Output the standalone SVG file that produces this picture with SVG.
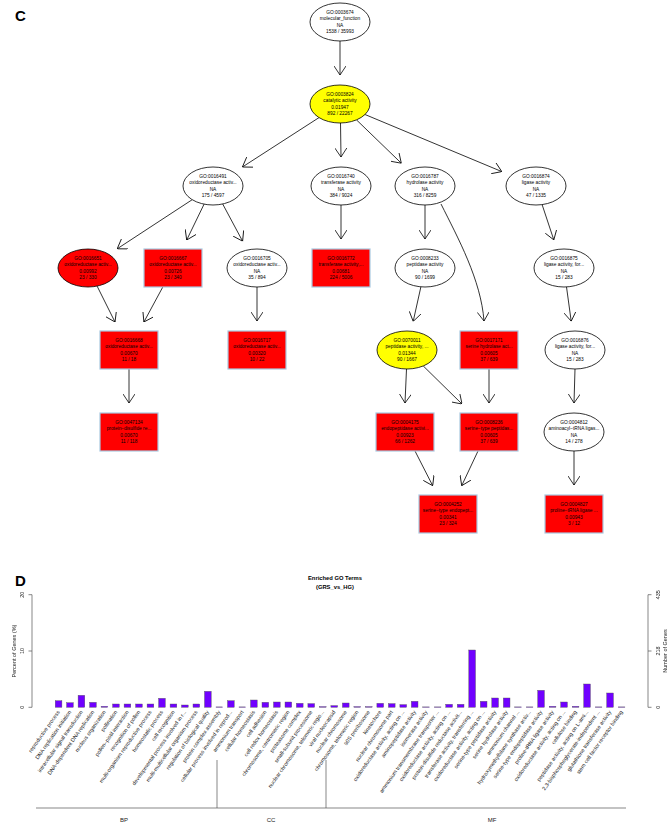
<svg xmlns="http://www.w3.org/2000/svg" width="670" height="826" viewBox="0 0 670 826">
<defs>
<style>
.nt{font-family:"Liberation Sans",Arial,sans-serif;font-size:4.8px;text-anchor:middle;fill:#000}
.ew{fill:#fff;stroke:#000;stroke-width:0.8}
.ey{fill:#ffff00;stroke:#000;stroke-width:0.8}
.er{fill:#ff0000;stroke:#000;stroke-width:0.8}
.rr{fill:#ff0000;stroke:#a8c8e0;stroke-width:1.2}
.ed{fill:none;stroke:#000;stroke-width:0.8}
.bar{fill:#7000ff;stroke:#555;stroke-width:0.4}
.ax{fill:none;stroke:#555;stroke-width:0.7}
.bl{font-family:"Liberation Sans",Arial,sans-serif;font-size:5.4px;text-anchor:end;fill:#222}
.at{font-family:"Liberation Sans",Arial,sans-serif;font-size:5.5px;text-anchor:middle;fill:#222}
.pl{font-family:"Liberation Sans",Arial,sans-serif;font-weight:bold;font-size:15px;fill:#000}
.ti{font-family:"Liberation Sans",Arial,sans-serif;font-weight:bold;font-size:5.8px;text-anchor:middle;fill:#000}
.cat{font-family:"Liberation Sans",Arial,sans-serif;font-size:6px;text-anchor:middle;fill:#222}
</style>
<marker id="ah" viewBox="0 0 9 12" refX="9" refY="6" markerWidth="9" markerHeight="12" markerUnits="userSpaceOnUse" orient="auto">
<path d="M0,0 L9,6 L0,12" fill="none" stroke="#000" stroke-width="0.8"/>
</marker>
</defs>
<rect width="670" height="826" fill="#fff"/>
<text class="pl" x="15" y="21">C</text>
<g id="edges" class="ed" marker-end="url(#ah)">
<path d="M340,41 L340,75"/>
<path d="M319,117.6 L242.4,167"/>
<path d="M340.5,123 L341,157"/>
<path d="M356.5,119.9 L401.3,163.2"/>
<path d="M365,114.5 L501.8,171.6"/>
<path d="M192.2,199.7 L117.2,248.8"/>
<path d="M204.1,204.1 L186.7,240"/>
<path d="M222.7,204 L242.6,241.2"/>
<path d="M341,205 L341,239"/>
<path d="M425,205 L425,239"/>
<path d="M441,204 C458,238 481,280 484,321"/>
<path d="M542.1,204.6 L553.8,239.9"/>
<path d="M97.1,286.1 L115,322"/>
<path d="M162.8,287 L143.9,322"/>
<path d="M257,287 L257,321"/>
<path d="M420.9,286.8 L413.2,321.4"/>
<path d="M566.5,286.9 L571.2,321.2"/>
<path d="M129,369 L129,403"/>
<path d="M406.5,369 L405,403"/>
<path d="M423.3,366 L462,404"/>
<path d="M489,369 L489,403"/>
<path d="M415,451 L432.7,485.7"/>
<path d="M478,451 L461.7,485.7"/>
<path d="M575,369 L574,403"/>
<path d="M574,451 L574,485"/>
</g>
<g id="nodes" opacity="0.995">
<g id="n0003674"><ellipse class="ew" cx="340" cy="22" rx="30" ry="19"/><text class="nt"><tspan x="340" y="14">GO:0003674</tspan><tspan x="340" y="20.3">molecular_function</tspan><tspan x="340" y="26.6">NA</tspan><tspan x="340" y="32.9">1538 / 35993</tspan></text></g>
<g id="n0003824"><ellipse class="ey" cx="340" cy="104" rx="30" ry="19"/><text class="nt"><tspan x="340" y="96">GO:0003824</tspan><tspan x="340" y="102.3">catalytic activity</tspan><tspan x="340" y="108.6">0.01947</tspan><tspan x="340" y="114.9">892 / 22267</tspan></text></g>
<g id="n0016491"><ellipse class="ew" cx="213" cy="186" rx="30" ry="19"/><text class="nt"><tspan x="213" y="178">GO:0016491</tspan><tspan x="213" y="184.3">oxidoreductase activ...</tspan><tspan x="213" y="190.6">NA</tspan><tspan x="213" y="196.9">175 / 4597</tspan></text></g>
<g id="n0016740"><ellipse class="ew" cx="341" cy="186" rx="30" ry="19"/><text class="nt"><tspan x="341" y="178">GO:0016740</tspan><tspan x="341" y="184.3">transferase activity</tspan><tspan x="341" y="190.6">NA</tspan><tspan x="341" y="196.9">384 / 9024</tspan></text></g>
<g id="n0016787"><ellipse class="ew" cx="425" cy="186" rx="30" ry="19"/><text class="nt"><tspan x="425" y="178">GO:0016787</tspan><tspan x="425" y="184.3">hydrolase activity</tspan><tspan x="425" y="190.6">NA</tspan><tspan x="425" y="196.9">316 / 8259</tspan></text></g>
<g id="n0016874"><ellipse class="ew" cx="536" cy="186" rx="30" ry="19"/><text class="nt"><tspan x="536" y="178">GO:0016874</tspan><tspan x="536" y="184.3">ligase activity</tspan><tspan x="536" y="190.6">NA</tspan><tspan x="536" y="196.9">47 / 1335</tspan></text></g>
<g id="n0016651"><ellipse class="er" cx="88" cy="268" rx="30" ry="19"/><text class="nt"><tspan x="88" y="260">GO:0016651</tspan><tspan x="88" y="266.3">oxidoreductase activ...</tspan><tspan x="88" y="272.6">0.00992</tspan><tspan x="88" y="278.9">23 / 330</tspan></text></g>
<g id="n0016667"><rect class="rr" x="144" y="249" width="58" height="38"/><text class="nt"><tspan x="173" y="260">GO:0016667</tspan><tspan x="173" y="266.3">oxidoreductase activ...</tspan><tspan x="173" y="272.6">0.00726</tspan><tspan x="173" y="278.9">23 / 340</tspan></text></g>
<g id="n0016705"><ellipse class="ew" cx="257" cy="268" rx="30" ry="19"/><text class="nt"><tspan x="257" y="260">GO:0016705</tspan><tspan x="257" y="266.3">oxidoreductase activ...</tspan><tspan x="257" y="272.6">NA</tspan><tspan x="257" y="278.9">35 / 894</tspan></text></g>
<g id="n0016772"><rect class="rr" x="312" y="249" width="58" height="38"/><text class="nt"><tspan x="341" y="260">GO:0016772</tspan><tspan x="341" y="266.3">transferase activity,...</tspan><tspan x="341" y="272.6">0.00681</tspan><tspan x="341" y="278.9">224 / 5006</tspan></text></g>
<g id="n0008233"><ellipse class="ew" cx="425" cy="268" rx="30" ry="19"/><text class="nt"><tspan x="425" y="260">GO:0008233</tspan><tspan x="425" y="266.3">peptidase activity</tspan><tspan x="425" y="272.6">NA</tspan><tspan x="425" y="278.9">90 / 1699</tspan></text></g>
<g id="n0016875"><ellipse class="ew" cx="564" cy="268" rx="30" ry="19"/><text class="nt"><tspan x="564" y="260">GO:0016875</tspan><tspan x="564" y="266.3">ligase activity, for...</tspan><tspan x="564" y="272.6">NA</tspan><tspan x="564" y="278.9">15 / 283</tspan></text></g>
<g id="n0016668"><rect class="rr" x="100" y="331" width="58" height="38"/><text class="nt"><tspan x="129" y="342">GO:0016668</tspan><tspan x="129" y="348.3">oxidoreductase activ...</tspan><tspan x="129" y="354.6">0.00670</tspan><tspan x="129" y="360.9">11 / 18</tspan></text></g>
<g id="n0016717"><rect class="rr" x="228" y="331" width="58" height="38"/><text class="nt"><tspan x="257" y="342">GO:0016717</tspan><tspan x="257" y="348.3">oxidoreductase activ...</tspan><tspan x="257" y="354.6">0.00320</tspan><tspan x="257" y="360.9">10 / 22</tspan></text></g>
<g id="n0070011"><ellipse class="ey" cx="407" cy="350" rx="30" ry="19"/><text class="nt"><tspan x="407" y="342">GO:0070011</tspan><tspan x="407" y="348.3">peptidase activity, ...</tspan><tspan x="407" y="354.6">0.01344</tspan><tspan x="407" y="360.9">90 / 1667</tspan></text></g>
<g id="n0017171"><rect class="rr" x="460" y="331" width="58" height="38"/><text class="nt"><tspan x="489" y="342">GO:0017171</tspan><tspan x="489" y="348.3">serine hydrolase act...</tspan><tspan x="489" y="354.6">0.00605</tspan><tspan x="489" y="360.9">37 / 639</tspan></text></g>
<g id="n0016876"><ellipse class="ew" cx="575" cy="350" rx="30" ry="19"/><text class="nt"><tspan x="575" y="342">GO:0016876</tspan><tspan x="575" y="348.3">ligase activity, for...</tspan><tspan x="575" y="354.6">NA</tspan><tspan x="575" y="360.9">15 / 283</tspan></text></g>
<g id="n0047134"><rect class="rr" x="100" y="413" width="58" height="38"/><text class="nt"><tspan x="129" y="424">GO:0047134</tspan><tspan x="129" y="430.3">protein−disulfide re...</tspan><tspan x="129" y="436.6">0.00670</tspan><tspan x="129" y="442.9">11 / 118</tspan></text></g>
<g id="n0004175"><rect class="rr" x="376" y="413" width="58" height="38"/><text class="nt"><tspan x="405" y="424">GO:0004175</tspan><tspan x="405" y="430.3">endopeptidase activi...</tspan><tspan x="405" y="436.6">0.00923</tspan><tspan x="405" y="442.9">66 / 1262</tspan></text></g>
<g id="n0008236"><rect class="rr" x="460" y="413" width="58" height="38"/><text class="nt"><tspan x="489" y="424">GO:0008236</tspan><tspan x="489" y="430.3">serine−type peptidas...</tspan><tspan x="489" y="436.6">0.00605</tspan><tspan x="489" y="442.9">37 / 639</tspan></text></g>
<g id="n0004812"><ellipse class="ew" cx="574" cy="432" rx="30" ry="19"/><text class="nt"><tspan x="574" y="424">GO:0004812</tspan><tspan x="574" y="430.3">aminoacyl−tRNA ligas...</tspan><tspan x="574" y="436.6">NA</tspan><tspan x="574" y="442.9">14 / 278</tspan></text></g>
<g id="n0004252"><rect class="rr" x="419" y="495" width="58" height="38"/><text class="nt"><tspan x="448" y="506">GO:0004252</tspan><tspan x="448" y="512.3">serine−type endopept...</tspan><tspan x="448" y="518.6">0.00341</tspan><tspan x="448" y="524.9">23 / 324</tspan></text></g>
<g id="n0004827"><rect class="rr" x="545" y="495" width="58" height="38"/><text class="nt"><tspan x="574" y="506">GO:0004827</tspan><tspan x="574" y="512.3">proline−tRNA ligase ...</tspan><tspan x="574" y="518.6">0.00943</tspan><tspan x="574" y="524.9">3 / 12</tspan></text></g>
</g>
<g id="chart">
<text class="pl" x="15" y="586">D</text>
<text class="ti" x="335" y="580">Enriched GO Terms</text>
<text class="ti" x="335" y="589">(GRS_vs_HG)</text>
<path class="ax" d="M32,594.7 V707.3 M32,594.7 H28.5 M32,651 H28.5 M32,707.3 H28.5"/>
<g opacity="0.995">
<text class="at" transform="translate(24,594.7) rotate(-90)">20</text>
<text class="at" transform="translate(24,651) rotate(-90)">10</text>
<text class="at" transform="translate(24,707.3) rotate(-90)">0</text>
<text class="at" transform="translate(16,651) rotate(-90)">Percent of Genes (%)</text>
<text class="at" transform="translate(660,594.7) rotate(-90)">435</text>
<text class="at" transform="translate(660,651) rotate(-90)">218</text>
<text class="at" transform="translate(660,707.3) rotate(-90)">0</text>
<text class="at" transform="translate(667,651) rotate(-90)">Number of Genes</text>
</g>
<path class="ax" d="M648,594.7 V707.3 M648,594.7 H651.5 M648,651 H651.5 M648,707.3 H651.5"/>
<g id="bars">
<rect class="bar" x="55.2" y="700.7" width="6.7" height="6.6"/>
<rect class="bar" x="66.6" y="702.7" width="6.7" height="4.6"/>
<rect class="bar" x="78.1" y="695.3" width="6.7" height="12"/>
<rect class="bar" x="89.6" y="702.3" width="6.7" height="5"/>
<rect class="bar" x="101.1" y="706.3" width="6.7" height="1"/>
<rect class="bar" x="112.6" y="704" width="6.7" height="3.3"/>
<rect class="bar" x="124.1" y="704" width="6.7" height="3.3"/>
<rect class="bar" x="135.6" y="704" width="6.7" height="3.3"/>
<rect class="bar" x="147.1" y="704" width="6.7" height="3.3"/>
<rect class="bar" x="158.6" y="698.3" width="6.7" height="9"/>
<rect class="bar" x="170.1" y="704" width="6.7" height="3.3"/>
<rect class="bar" x="181.5" y="705" width="6.7" height="2.3"/>
<rect class="bar" x="193.0" y="704" width="6.7" height="3.3"/>
<rect class="bar" x="204.5" y="691.3" width="6.7" height="16"/>
<rect class="bar" x="216.0" y="706.9" width="6.7" height="0.4"/>
<rect class="bar" x="227.5" y="700.7" width="6.7" height="6.6"/>
<rect class="bar" x="239.0" y="706.9" width="6.7" height="0.4"/>
<rect class="bar" x="250.5" y="700" width="6.7" height="7.3"/>
<rect class="bar" x="262.0" y="702.3" width="6.7" height="5"/>
<rect class="bar" x="273.5" y="702" width="6.7" height="5.3"/>
<rect class="bar" x="285.0" y="702" width="6.7" height="5.3"/>
<rect class="bar" x="296.4" y="703.3" width="6.7" height="4"/>
<rect class="bar" x="307.9" y="703.6" width="6.7" height="3.7"/>
<rect class="bar" x="319.4" y="706.6" width="6.7" height="0.7"/>
<rect class="bar" x="330.9" y="705.6" width="6.7" height="1.7"/>
<rect class="bar" x="342.4" y="703" width="6.7" height="4.3"/>
<rect class="bar" x="353.9" y="706.6" width="6.7" height="0.7"/>
<rect class="bar" x="365.4" y="706.6" width="6.7" height="0.7"/>
<rect class="bar" x="376.9" y="703.3" width="6.7" height="4"/>
<rect class="bar" x="388.4" y="703.6" width="6.7" height="3.7"/>
<rect class="bar" x="399.9" y="704.6" width="6.7" height="2.7"/>
<rect class="bar" x="411.3" y="701.3" width="6.7" height="6"/>
<rect class="bar" x="422.8" y="706.9" width="6.7" height="0.4"/>
<rect class="bar" x="434.3" y="706.9" width="6.7" height="0.4"/>
<rect class="bar" x="445.8" y="704.3" width="6.7" height="3"/>
<rect class="bar" x="457.3" y="704.3" width="6.7" height="3"/>
<rect class="bar" x="468.8" y="650" width="6.7" height="57.3"/>
<rect class="bar" x="480.3" y="701.3" width="6.7" height="6"/>
<rect class="bar" x="491.8" y="698" width="6.7" height="9.3"/>
<rect class="bar" x="503.3" y="698" width="6.7" height="9.3"/>
<rect class="bar" x="514.8" y="706.9" width="6.7" height="0.4"/>
<rect class="bar" x="526.2" y="706.9" width="6.7" height="0.4"/>
<rect class="bar" x="537.7" y="690.3" width="6.7" height="17"/>
<rect class="bar" x="549.2" y="706.3" width="6.7" height="1"/>
<rect class="bar" x="560.7" y="702" width="6.7" height="5.3"/>
<rect class="bar" x="572.2" y="706.3" width="6.7" height="1"/>
<rect class="bar" x="583.7" y="684" width="6.7" height="23.3"/>
<rect class="bar" x="595.2" y="706.9" width="6.7" height="0.4"/>
<rect class="bar" x="606.7" y="693" width="6.7" height="14.3"/>
<rect class="bar" x="618.2" y="706.9" width="6.7" height="0.4"/>
</g>
<g id="barlabels" class="bl" opacity="0.995">
<text transform="translate(60,712) rotate(-55)">reproductive process</text>
<text transform="translate(71.5,712) rotate(-55)">DNA replication initiation</text>
<text transform="translate(83,712) rotate(-55)">intracellular signal transduction</text>
<text transform="translate(94.5,712) rotate(-55)">DNA-dependent DNA replication</text>
<text transform="translate(106,712) rotate(-55)">nucleus organization</text>
<text transform="translate(117.5,712) rotate(-55)">pollination</text>
<text transform="translate(129,712) rotate(-55)">pollen–pistil interaction</text>
<text transform="translate(140.4,712) rotate(-55)">recognition of pollen</text>
<text transform="translate(151.9,712) rotate(-55)">multi-organism reproductive process</text>
<text transform="translate(163.4,712) rotate(-55)">homeostatic process</text>
<text transform="translate(174.9,712) rotate(-55)">cell recognition</text>
<text transform="translate(186.4,712) rotate(-55)">developmental process involved in r...</text>
<text transform="translate(197.9,712) rotate(-55)">multi-multicellular organism process</text>
<text transform="translate(209.4,712) rotate(-55)">regulation of biological quality</text>
<text transform="translate(220.9,712) rotate(-55)">protein complex assembly</text>
<text transform="translate(232.4,712) rotate(-55)">cellular process involved in reprod...</text>
<text transform="translate(243.8,712) rotate(-55)">ammonium transport</text>
<text transform="translate(255.3,712) rotate(-55)">cellular homeostasis</text>
<text transform="translate(266.8,712) rotate(-55)">cell adhesion</text>
<text transform="translate(278.3,712) rotate(-55)">cell redox homeostasis</text>
<text transform="translate(289.8,712) rotate(-55)">chromosome, centromeric region</text>
<text transform="translate(301.3,712) rotate(-55)">proteasome complex</text>
<text transform="translate(312.8,712) rotate(-55)">small-subunit processome</text>
<text transform="translate(324.3,712) rotate(-55)">nuclear chromosome, telomeric regio...</text>
<text transform="translate(335.8,712) rotate(-55)">viral nucleocapsid</text>
<text transform="translate(347.2,712) rotate(-55)">nuclear chromosome</text>
<text transform="translate(358.7,712) rotate(-55)">chromosome, telomeric region</text>
<text transform="translate(370.2,712) rotate(-55)">90S preribosome</text>
<text transform="translate(381.7,712) rotate(-55)">kinetochore</text>
<text transform="translate(393.2,712) rotate(-55)">nuclear chromosome part</text>
<text transform="translate(404.7,712) rotate(-55)">oxidoreductase activity, acting on ...</text>
<text transform="translate(416.2,712) rotate(-55)">aminopeptidase activity</text>
<text transform="translate(427.7,712) rotate(-55)">isomerase activity</text>
<text transform="translate(439.2,712) rotate(-55)">ammonium transmembrane transporter ...</text>
<text transform="translate(450.7,712) rotate(-55)">oxidoreductase activity, acting on ...</text>
<text transform="translate(462.2,712) rotate(-55)">protein-disulfide reductase activit...</text>
<text transform="translate(473.6,712) rotate(-55)">transferase activity, transferring ...</text>
<text transform="translate(485.1,712) rotate(-55)">oxidoreductase activity, acting on ...</text>
<text transform="translate(496.6,712) rotate(-55)">serine-type peptidase activity</text>
<text transform="translate(508.1,712) rotate(-55)">serine hydrolase activity</text>
<text transform="translate(519.6,712) rotate(-55)">ammonium channel ...</text>
<text transform="translate(531.1,712) rotate(-55)">hydroxymethylbilane synthase activ...</text>
<text transform="translate(542.6,712) rotate(-55)">serine-type endopeptidase activity</text>
<text transform="translate(554.1,712) rotate(-55)">proline-tRNA ligase activity</text>
<text transform="translate(565.6,712) rotate(-55)">oxidoreductase activity, acting on ...</text>
<text transform="translate(577,712) rotate(-55)">cellulose binding</text>
<text transform="translate(588.5,712) rotate(-55)">peptidase activity, acting on L-ami...</text>
<text transform="translate(600,712) rotate(-55)">2,3-bisphosphoglycerate-independent ...</text>
<text transform="translate(611.5,712) rotate(-55)">glutathione transferase activity</text>
<text transform="translate(623,712) rotate(-55)">stem cell factor receptor binding</text>
</g>
<g id="categories">
<path class="ax" d="M36,808 H626 M217,760 V808 M326,760 V808"/>
<text class="cat" x="124" y="822">BP</text>
<text class="cat" x="271" y="822">CC</text>
<text class="cat" x="492" y="822">MF</text>
</g>
</g>
</svg>
